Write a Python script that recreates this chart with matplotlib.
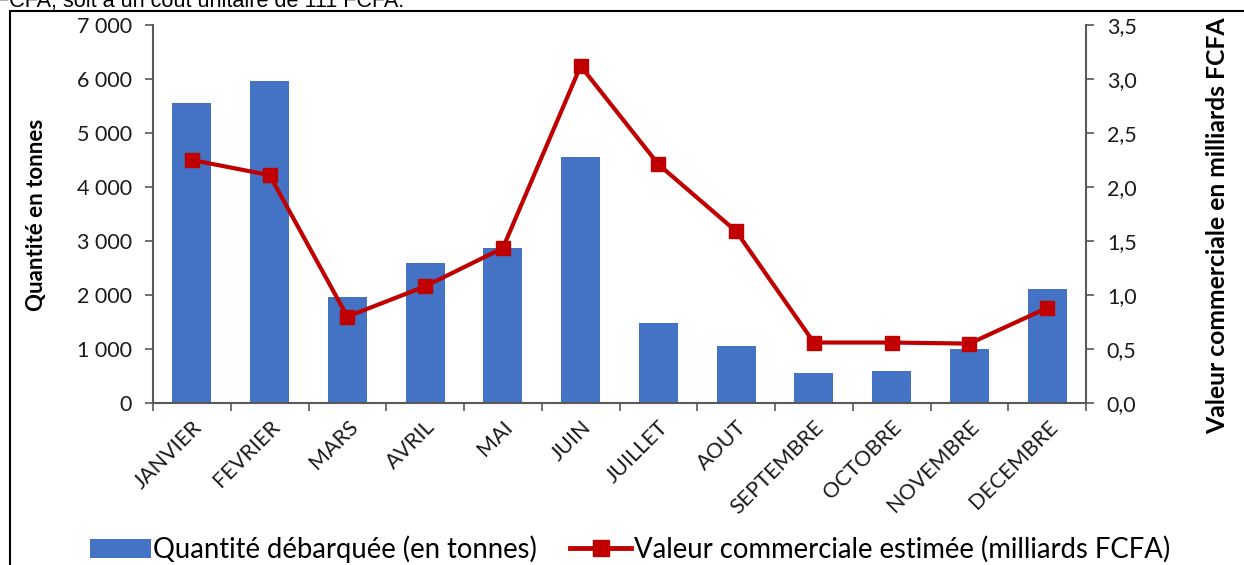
import matplotlib

matplotlib.use("Agg")
import matplotlib.pyplot as plt
from matplotlib.lines import Line2D
from matplotlib.patches import Patch, Rectangle
from matplotlib.ticker import FuncFormatter, FixedLocator
from matplotlib.transforms import ScaledTranslation

plt.rcParams["font.family"] = ["Lato", "DejaVu Sans"]

# Données mensuelles
mois = ["JANVIER", "FEVRIER", "MARS", "AVRIL", "MAI", "JUIN", "JUILLET",
        "AOUT", "SEPTEMBRE", "OCTOBRE", "NOVEMBRE", "DECEMBRE"]
quantite_tonnes = [5550, 5960, 1960, 2600, 2870, 4550, 1480,
                   1050, 560, 590, 1000, 2110]
valeur_milliards = [2.25, 2.11, 0.80, 1.08, 1.435, 3.12, 2.21,
                    1.59, 0.56, 0.56, 0.55, 0.88]

BLEU = "#4472C4"
ROUGE = "#C00000"
GRIS = "#595959"
TEXTE = "#1a1a1a"

fig = plt.figure(figsize=(12.44, 5.65), dpi=100)
ax = fig.add_axes([153 / 1244, 1 - 403 / 565, (1086 - 153) / 1244, 378 / 565])
ax2 = ax.twinx()

x = list(range(len(mois)))
ax.bar(x, quantite_tonnes, width=0.5, color=BLEU, zorder=2)
ax2.plot(x, valeur_milliards, color=ROUGE, linewidth=3, marker="s",
         markersize=10, zorder=3)

ax.set_xlim(-0.5, len(mois) - 0.5)
ax.set_ylim(0, 7000)
ax2.set_ylim(0, 3.5)
ax.set_yticks(range(0, 7001, 1000))
ax2.set_yticks([i * 0.5 for i in range(8)])

ax.yaxis.set_major_formatter(FuncFormatter(lambda v, p: f"{int(v):,}".replace(",", " ")))
ax2.yaxis.set_major_formatter(FuncFormatter(lambda v, p: f"{v:.1f}".replace(".", ",")))

# graduations de l'axe X entre les catégories
ax.set_xticks(x)
ax.set_xticklabels(mois, rotation=45, ha="right", rotation_mode="anchor", fontsize=15.5)
decalage = ScaledTranslation(-5 / 100, 0, fig.dpi_scale_trans)
for lab in ax.get_xticklabels():
    lab.set_transform(lab.get_transform() + decalage)
ax.xaxis.set_minor_locator(FixedLocator([i - 0.5 for i in range(len(mois) + 1)]))
ax.tick_params(axis="x", which="major", length=0, pad=10, colors=TEXTE)
ax.tick_params(axis="x", which="minor", length=6, width=1.2, color=GRIS)
ax.tick_params(axis="y", length=6, width=1.2, color=GRIS, labelsize=15.5,
               labelcolor=TEXTE, pad=9)
ax2.tick_params(axis="y", length=6, width=1.2, color=GRIS, labelsize=15.5,
                labelcolor=TEXTE, pad=9)

for a in (ax, ax2):
    a.spines["top"].set_visible(False)
    for s in ("left", "right", "bottom"):
        a.spines[s].set_color(GRIS)
        a.spines[s].set_linewidth(1.5)
ax.spines["right"].set_visible(False)
ax2.spines["left"].set_visible(False)
ax2.spines["bottom"].set_visible(False)

fig.text(37 / 1244, 1 - 215 / 565, "Quantité en tonnes", rotation=90,
         ha="center", va="center", fontsize=16, fontweight="bold")
fig.text(1218 / 1244, 1 - 226 / 565, "Valeur commerciale en milliards FCFA",
         rotation=90, ha="center", va="center", fontsize=17.8, fontweight="bold")

# légende en bas
handles = [Patch(facecolor=BLEU),
           Line2D([], [], color=ROUGE, linewidth=3.5, marker="s", markersize=11)]
labels = ["Quantité débarquée (en tonnes)",
          "Valeur commerciale estimée (milliards FCFA)"]
fig.legend(handles, labels, loc="center", bbox_to_anchor=(630 / 1244, 1 - 549 / 565),
           ncol=2, frameon=False, fontsize=19.8, handlelength=2.2,
           handletextpad=0.1, columnspacing=1.2, borderpad=0)

# cadre du graphique et texte coupé en haut
fig.add_artist(Rectangle((10 / 1244, -0.05), 1.1, 1 - 11 / 565 + 0.05,
                         transform=fig.transFigure, fill=False,
                         edgecolor="black", linewidth=1.5))
fig.text(-4 / 1244, 1 - 7 / 565, "FCFA, soit à un coût unitaire de 111 FCFA.",
         family="Liberation Sans", fontsize=15.6, ha="left", va="baseline")

fig.savefig("out.png", dpi=100)
